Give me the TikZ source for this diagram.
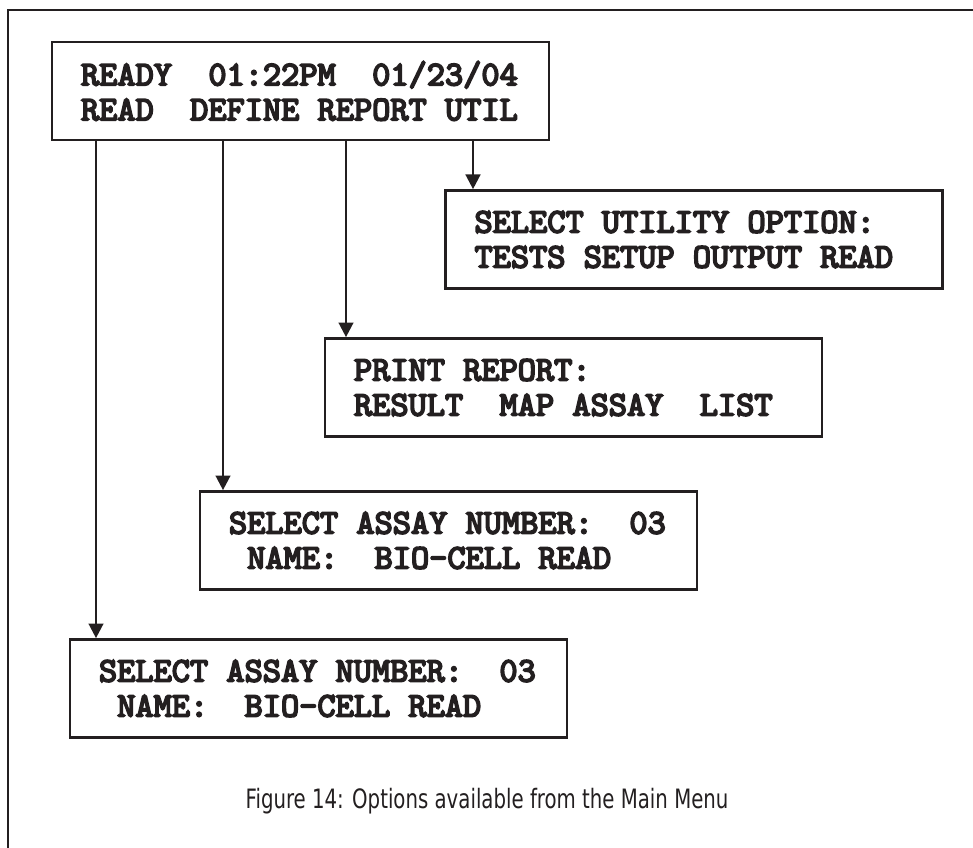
\documentclass[tikz,border=0pt]{standalone}
\usepackage{fontspec}
\usepackage{graphicx}
\usetikzlibrary{arrows.meta}
\newfontfamily\capfont{DejaVu Sans}
\newfontfamily\lcdfont{lmmono10-regular.otf}[FakeBold=5]
\newcommand{\lsp}{\hphantom{X}}
\definecolor{ink}{HTML}{231F20}
\tikzset{
  lcdbox/.style={draw=ink, line width=2pt, rectangle, minimum width=372.75pt, minimum height=73.5pt,
    inner xsep=21.75pt, text width=329.25pt, align=left, text=ink,
    font=\lcdfont\fontsize{26pt}{26.25pt}\selectfont},
  arr/.style={draw=ink, line width=1.8pt, -{Triangle[length=11pt,width=11pt]}},
  frame/.style={draw=ink, line width=1.2pt},
  captxt/.style={text=ink, font=\capfont\fontsize{20pt}{24pt}\selectfont}
}
\begin{document}
\begin{tikzpicture}[x=0.75pt,y=-0.75pt]
\useasboundingbox (0,0) rectangle (973,848);
\draw[frame] (973,10) -- (8,10) -- (8,848);

\node[lcdbox] (main) at (300.5,91) {\mbox{READY\lsp\lsp01:22PM\lsp\lsp01/23/04}\\\mbox{READ\lsp\lsp DEFINE\lsp REPORT\lsp UTIL}};
\node[lcdbox] (util) at (694,239.5) {\mbox{SELECT\lsp UTILITY\lsp OPTION:}\\\mbox{TESTS\lsp SETUP\lsp OUTPUT\lsp READ}};
\node[lcdbox] (report) at (573.5,387.5) {\mbox{PRINT\lsp REPORT:}\\\mbox{RESULT\lsp\lsp MAP\lsp ASSAY\lsp\lsp LIST}};
\node[lcdbox] (define) at (448.5,540.5) {\mbox{SELECT\lsp ASSAY\lsp NUMBER:\lsp\lsp03}\\\mbox{\lsp NAME:\lsp\lsp BIO-CELL\lsp READ}};
\node[lcdbox] (read) at (318.5,688.5) {\mbox{SELECT\lsp ASSAY\lsp NUMBER:\lsp\lsp03}\\\mbox{\lsp NAME:\lsp\lsp BIO-CELL\lsp READ}};

\coordinate (xread) at (96,0);
\coordinate (xdefine) at (223,0);
\coordinate (xreport) at (346,0);
\coordinate (xutil) at (473,0);

\draw[arr] (main.south -| xread) -- (read.north -| xread);
\draw[arr] (main.south -| xdefine) -- (define.north -| xdefine);
\draw[arr] (main.south -| xreport) -- (report.north -| xreport);
\draw[arr] (main.south -| xutil) -- (util.north -| xutil);

\node[captxt] (cap) at (487,801) {\scalebox{0.74}[1]{Figure 14: Options available from the Main Menu}};
\end{tikzpicture}
\end{document}
